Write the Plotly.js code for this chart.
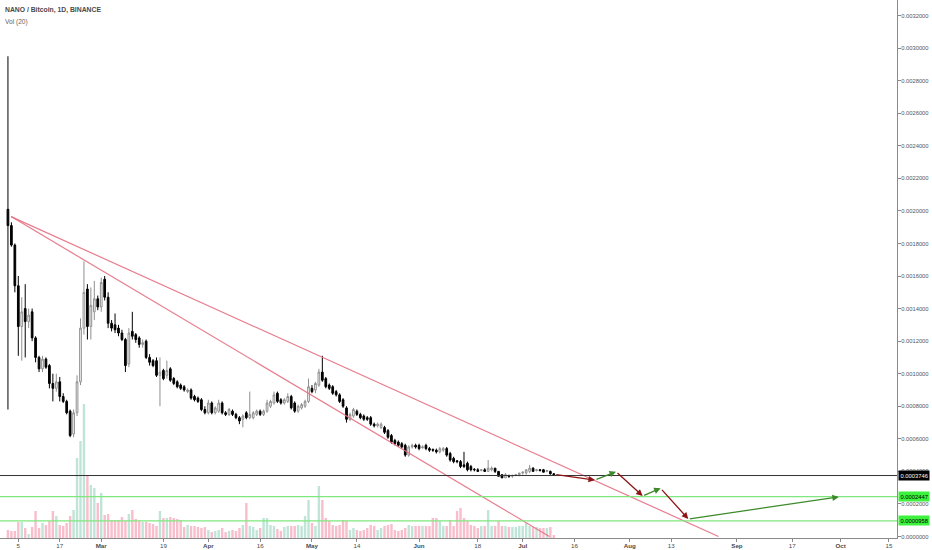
<!DOCTYPE html>
<html><head><meta charset="utf-8">
<script src="https://cdn.plot.ly/plotly-3.0.1.min.js"></script>
<style>html,body{margin:0;padding:0;background:#fff}#chart{width:932px;height:550px}</style>
</head><body><div id="chart"></div>
<script>
// NANO/BTC daily candles, Binance, 2018-02-02 .. 2018-07-10
const firstDay = '2018-02-02';
const openP = [
0.00201,0.00191,0.00179,0.00154,0.00129,0.00140,0.00132,0.00138,0.00122,0.00110,
0.00103,0.00109,0.00105,0.00094,0.00091,0.00095,0.00086,0.00083,0.00077,0.00063,
0.00076,0.00095,0.00128,0.00152,0.00129,0.00138,0.00146,0.00141,0.00158,0.00147,
0.00131,0.00130,0.00128,0.00125,0.00121,0.00106,0.00126,0.00124,0.00122,0.00118,
0.00120,0.00110,0.00108,0.00108,0.00099,0.00102,0.00099,0.00103,0.00097,0.00095,
0.00093,0.00092,0.00089,0.00090,0.00086,0.00085,0.00084,0.00078,0.00076,0.00082,
0.00076,0.00077,0.00082,0.00076,0.00075,0.00077,0.00075,0.00073,0.00072,0.00076,
0.00073,0.00073,0.00075,0.00077,0.00075,0.00077,0.00080,0.00082,0.00088,0.00084,
0.00082,0.00083,0.00086,0.00082,0.00077,0.00079,0.00080,0.00083,0.00091,0.00090,
0.00093,0.00101,0.00097,0.00093,0.00092,0.00089,0.00087,0.00084,0.00079,0.00072,
0.00074,0.00077,0.00075,0.00074,0.00073,0.00073,0.00069,0.00068,0.00067,0.00067,
0.00065,0.00062,0.00059,0.00058,0.00057,0.00056,0.00050,0.00055,0.00056,0.00056,
0.000545,0.00056,0.00054,0.000535,0.00053,0.00052,0.00053,0.00054,0.00051,0.00048,
0.000465,0.00046,0.00044,0.00045,0.00043,0.000413,0.00041,0.000406,0.00041,0.00040,
0.00041,0.00042,0.00040,0.00038,0.00036,0.000372,0.00037,0.000375,0.00038,0.00039,
0.00039,0.00040,0.00042,0.000405,0.00041,0.00041,0.00040,0.00040,0.000385];
const highP = [
0.00295,0.00193,0.00180,0.00160,0.00147,0.00155,0.00140,0.00140,0.00123,0.00111,
0.00111,0.00110,0.00106,0.00100,0.00100,0.00098,0.00088,0.00084,0.00078,0.00078,
0.00099,0.00134,0.00169,0.00155,0.00153,0.00157,0.00148,0.00159,0.00160,0.00150,
0.00133,0.00137,0.00130,0.00127,0.00122,0.00128,0.00138,0.00125,0.00123,0.00121,
0.00121,0.00112,0.00109,0.00110,0.00110,0.00103,0.00108,0.00104,0.00098,0.00096,
0.00094,0.00093,0.00091,0.00091,0.00087,0.00086,0.00085,0.00080,0.00084,0.00083,
0.00080,0.00084,0.00083,0.00077,0.00079,0.00078,0.00076,0.00074,0.00075,0.00077,
0.00089,0.00077,0.00078,0.00078,0.00078,0.00084,0.00084,0.00089,0.00089,0.00085,
0.00085,0.00088,0.00087,0.00083,0.00081,0.00082,0.00084,0.00097,0.00093,0.00095,
0.00103,0.00111,0.00098,0.00094,0.00093,0.00090,0.00088,0.00085,0.00080,0.00076,
0.00079,0.00078,0.00076,0.00075,0.00074,0.00074,0.00070,0.00070,0.00070,0.00068,
0.00066,0.00063,0.00060,0.00059,0.00058,0.00057,0.00056,0.00057,0.00057,0.00057,
0.00056,0.00057,0.00055,0.00054,0.00054,0.00055,0.00055,0.00055,0.00052,0.00049,
0.00047,0.00047,0.00052,0.00046,0.00044,0.00042,0.00042,0.00041,0.00042,0.00047,
0.00043,0.00042,0.00040,0.00038,0.00039,0.00038,0.00038,0.00038,0.00039,0.00040,
0.00041,0.00044,0.000425,0.000415,0.000415,0.000415,0.00041,0.000405,0.00039];
const lowP = [
0.00078,0.00178,0.00150,0.00111,0.00108,0.00110,0.00128,0.00120,0.00107,0.00101,
0.00101,0.00103,0.00091,0.00083,0.00089,0.00083,0.00082,0.00075,0.00061,0.00061,
0.00074,0.00093,0.00124,0.00121,0.00121,0.00133,0.00139,0.00138,0.00145,0.00128,
0.00126,0.00125,0.00123,0.00120,0.00101,0.00104,0.00121,0.00119,0.00116,0.00116,
0.00109,0.00105,0.00104,0.00098,0.00080,0.00096,0.00097,0.00095,0.00093,0.00091,
0.00090,0.00089,0.00088,0.00084,0.00083,0.00082,0.00077,0.00075,0.00075,0.00075,
0.00075,0.00076,0.00075,0.00074,0.00074,0.00074,0.00072,0.00069,0.00067,0.00072,
0.00072,0.00072,0.00074,0.00074,0.00074,0.00076,0.00079,0.00081,0.00082,0.00081,
0.00081,0.00082,0.00078,0.00076,0.00076,0.00078,0.00079,0.00082,0.00088,0.00088,
0.00092,0.00095,0.00091,0.00090,0.00087,0.00086,0.00082,0.00079,0.00070,0.00071,
0.00073,0.00074,0.00072,0.00071,0.00071,0.00068,0.00067,0.00067,0.00066,0.00063,
0.00060,0.00057,0.00056,0.00055,0.00054,0.00049,0.00049,0.00054,0.00054,0.00053,
0.00054,0.00053,0.00052,0.00052,0.00051,0.00051,0.00052,0.00049,0.00046,0.00045,
0.00045,0.00042,0.00042,0.00040,0.00040,0.00040,0.00040,0.00040,0.00040,0.00040,
0.00040,0.00039,0.00037,0.00036,0.00036,0.00036,0.00036,0.00037,0.00037,0.00038,
0.00038,0.00039,0.00040,0.00040,0.00040,0.000395,0.000395,0.00038,0.000374];
const closeP = [
0.00191,0.00179,0.00154,0.00129,0.00138,0.00132,0.00136,0.00122,0.00110,0.00103,
0.00109,0.00104,0.00094,0.00091,0.00095,0.00086,0.00083,0.00076,0.00062,0.00076,
0.00095,0.00128,0.00150,0.00129,0.00142,0.00146,0.00141,0.00156,0.00147,0.00131,
0.00128,0.00127,0.00125,0.00121,0.00105,0.00125,0.00123,0.00121,0.00118,0.00119,
0.00110,0.00107,0.00105,0.00099,0.00101,0.00097,0.00102,0.00096,0.00094,0.00092,
0.00091,0.00090,0.00090,0.00085,0.00084,0.00083,0.00078,0.00076,0.00082,0.00076,
0.00079,0.00082,0.00076,0.00075,0.00078,0.00075,0.00073,0.00071,0.00074,0.00073,
0.00075,0.00076,0.00077,0.00075,0.00077,0.00082,0.00083,0.00087,0.00083,0.00082,
0.00084,0.00086,0.00079,0.00077,0.00080,0.00081,0.00083,0.00092,0.00089,0.00094,
0.00101,0.00096,0.00092,0.00091,0.00088,0.00087,0.00083,0.00080,0.00072,0.00075,
0.00078,0.00075,0.00073,0.00072,0.00072,0.00069,0.00068,0.00069,0.00069,0.00064,
0.00061,0.00058,0.00057,0.00056,0.00055,0.00050,0.00055,0.00056,0.00055,0.00054,
0.00055,0.00054,0.00053,0.00053,0.00052,0.00054,0.00054,0.00050,0.00047,0.00046,
0.00046,0.00043,0.00043,0.00041,0.00041,0.00041,0.00040,0.00041,0.00040,0.00042,
0.00042,0.00040,0.00037,0.00036,0.00038,0.00037,0.000375,0.00038,0.00039,0.000395,
0.00041,0.00042,0.00040,0.00041,0.000405,0.000395,0.000405,0.000385,0.0003746];
// daily volume (thousand NANO)
const volumeK = [
80,70,70,160,160,100,40,110,270,100,
150,130,170,270,220,130,120,150,220,280,
800,970,1340,620,530,500,350,450,230,240,
180,180,180,210,170,240,280,190,170,160,
160,150,140,120,270,200,200,210,200,190,
180,110,130,120,120,110,100,110,80,60,
70,80,100,60,70,80,70,100,130,350,
120,110,80,100,200,200,130,120,90,70,
110,120,120,120,130,120,220,380,150,120,
520,380,200,170,130,120,130,180,170,80,
100,80,70,80,100,130,120,80,100,120,
130,140,80,70,80,100,130,120,120,120,
120,120,120,200,200,170,120,120,180,120,
270,300,200,170,130,120,100,120,120,280,
120,120,170,120,120,110,110,110,120,120,
150,120,110,110,100,100,100,110,30];
const tickDates = ['2018-02-05','2018-02-17','2018-03-01','2018-03-19','2018-04-01','2018-04-16',
  '2018-05-01','2018-05-14','2018-06-01','2018-06-18','2018-07-01','2018-07-16','2018-08-01',
  '2018-08-13','2018-09-01','2018-09-17','2018-10-01','2018-10-15'];
const tickLabels = ['5','17','<b>Mar</b>','19','<b>Apr</b>','16','<b>May</b>','14','<b>Jun</b>','18',
  '<b>Jul</b>','16','<b>Aug</b>','13','<b>Sep</b>','17','<b>Oct</b>','15'];
const priceTicks = [0,0.0002,0.0004,0.0006,0.0008,0.0010,0.0012,0.0014,0.0016,0.0018,0.0020,
  0.0022,0.0024,0.0026,0.0028,0.0030,0.0032];
const levelPrices = [0.0003746, 0.0002447, 0.0000958];
const levelLabels = ['0.0003746','0.0002447','0.0000958'];
const trendDates = [['2018-02-02 22:00','2018-08-26 16:00'], ['2018-02-02 22:00','2018-07-08 17:00']];
const trendPrices = [[0.001965, 0], [0.001965, 0]];
const pathDates = ['2018-07-10 07:00','2018-07-21 22:00','2018-07-28 00:00','2018-08-04 17:00',
  '2018-08-09 22:00','2018-08-17 22:00','2018-09-30 12:00'];
const pathPrices = [0.000382,0.000347,0.000398,0.000249,0.000296,0.0001075,0.000243];

// ---- build ----
const dates = [];
{
  const t0 = Date.parse(firstDay + 'T00:00:00Z');
  for (let i = 0; i < closeP.length; i++) {
    dates.push(new Date(t0 + i * 86400000).toISOString().slice(0, 10));
  }
}
const UP_VOL = 'rgba(150,212,190,0.6)';
const DN_VOL = 'rgba(246,150,172,0.62)';
const volColors = closeP.map((c, i) => (c >= openP[i] ? UP_VOL : DN_VOL));
const FONT = 'Liberation Sans, Arial, sans-serif';

const traces = [
  { type: 'bar', x: dates, y: volumeK, yaxis: 'y', marker: { color: volColors, line: { width: 0 } },
    hoverinfo: 'skip', showlegend: false },
];
trendDates.forEach((d, k) => {
  traces.push({ type: 'scatter', mode: 'lines', x: d, y: trendPrices[k], yaxis: 'y2',
    line: { color: 'rgba(228,110,128,0.9)', width: 1.2 }, hoverinfo: 'skip', showlegend: false });
});
traces.push({
  type: 'candlestick', x: dates, open: openP, high: highP, low: lowP, close: closeP, yaxis: 'y2',
  increasing: { line: { color: '#8f8f8f', width: 1 }, fillcolor: '#ffffff' },
  decreasing: { line: { color: '#000000', width: 1 }, fillcolor: '#000000' },
  whiskerwidth: 0, hoverinfo: 'skip', showlegend: false
});

const levelLineColors = ['#333333', '#7ee87e', '#7ee87e'];
const levelBg = ['#000000', '#3cf23c', '#3cf23c'];
const levelFg = ['#ffffff', '#000000', '#000000'];
const shapes = levelPrices.map((p, k) => ({
  type: 'line', xref: 'paper', x0: 0, x1: 1, yref: 'y2', y0: p, y1: p,
  line: { color: levelLineColors[k], width: k === 0 ? 1 : 1.4 }, layer: 'above'
}));

const annotations = [
  { xref: 'paper', yref: 'paper', x: 0, y: 1, xanchor: 'left', yanchor: 'top', xshift: 3, yshift: -4,
    text: '<b>NANO / Bitcoin, 1D, BINANCE</b>', showarrow: false,
    font: { family: FONT, size: 6.8, color: '#4a4a4a' } },
  { xref: 'paper', yref: 'paper', x: 0, y: 1, xanchor: 'left', yanchor: 'top', xshift: 3, yshift: -16,
    text: 'Vol (20)', showarrow: false, font: { family: FONT, size: 6.6, color: '#666666' } }
];
levelPrices.forEach((p, k) => {
  annotations.push({ xref: 'paper', x: 1, yref: 'y2', y: p, xanchor: 'left', yanchor: 'middle', xshift: 1,
    text: levelLabels[k], showarrow: false, bgcolor: levelBg[k], borderpad: 1.5,
    font: { family: FONT, size: 5.8, color: levelFg[k] } });
});
const arrowColors = ['#8e1414', '#3c8a2a'];
for (let k = 0; k < pathDates.length - 1; k++) {
  annotations.push({ xref: 'x', yref: 'y2', axref: 'x', ayref: 'y2',
    x: pathDates[k + 1], y: pathPrices[k + 1], ax: pathDates[k], ay: pathPrices[k],
    text: '', showarrow: true, arrowhead: 2, arrowsize: 1, arrowwidth: 1.3,
    arrowcolor: arrowColors[k % 2], standoff: 0, startstandoff: 0 });
}

const layout = {
  width: 932, height: 550,
  margin: { l: 0, r: 35, t: 0, b: 12, pad: 0 },
  paper_bgcolor: '#ffffff', plot_bgcolor: '#ffffff',
  showlegend: false, bargap: 0.3,
  font: { family: FONT, size: 6, color: '#4a4a4a' },
  xaxis: {
    type: 'date', range: ['2018-01-30 16:50', '2018-10-17 08:00'],
    rangeslider: { visible: false }, showgrid: false, zeroline: false,
    showline: true, linecolor: '#8a8a8a', linewidth: 1,
    ticks: 'outside', ticklen: 3, tickcolor: '#8a8a8a',
    tickmode: 'array', tickvals: tickDates, ticktext: tickLabels, ticklabelstandoff: -1,
    tickfont: { family: FONT, size: 6.2, color: '#4a4a4a' }, fixedrange: true
  },
  yaxis: { range: [0, 5380], visible: false, fixedrange: true },
  yaxis2: {
    overlaying: 'y', side: 'right', range: [-0.0000092, 0.0032955],
    showgrid: false, zeroline: false, showline: true, linecolor: '#8a8a8a', linewidth: 1,
    ticks: 'outside', ticklen: 3, tickcolor: '#8a8a8a', ticklabelstandoff: -1,
    tickmode: 'array', tickvals: priceTicks, tickformat: '.7f',
    tickfont: { family: FONT, size: 5.8, color: '#555555' }, fixedrange: true
  },
  shapes: shapes,
  annotations: annotations
};
Plotly.newPlot('chart', traces, layout, { staticPlot: true, displayModeBar: false });
</script>
</body></html>
